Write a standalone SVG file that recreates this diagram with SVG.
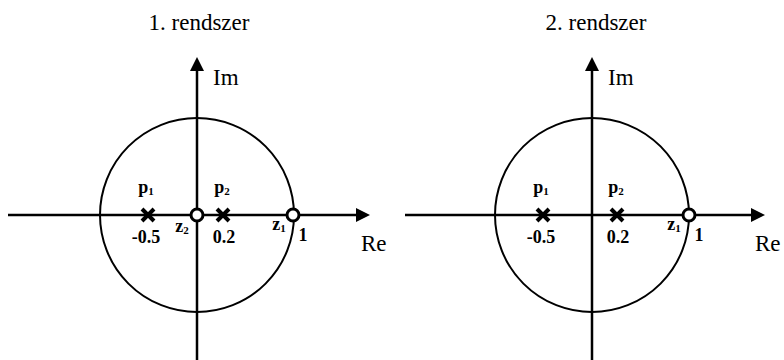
<svg xmlns="http://www.w3.org/2000/svg" width="784" height="360" viewBox="0 0 784 360">
<style>
.ax{stroke:#000;stroke-width:2.5;fill:none}
.uc{stroke:#000;stroke-width:2;fill:none}
.zero{stroke:#000;stroke-width:3;fill:#fff}
.pole{stroke:#000;stroke-width:4;stroke-linecap:butt}
text{font-family:"Liberation Serif","DejaVu Serif",serif;fill:#000}
.t{font-size:23px;text-anchor:middle}
.ax-l{font-size:23px}
.b{font-size:18px;font-weight:bold;text-anchor:middle}
.s{font-size:11px;font-weight:bold}
</style>
<g id="connectors">
<line class="ax" x1="8" y1="215" x2="362" y2="215"/>
<path d="M356,208 L370,215 L356,222 z" fill="#000"/>
<line class="ax" x1="197" y1="360" x2="197" y2="66"/>
<path d="M190,71 L197,57 L204,71 z" fill="#000"/>
<line class="ax" x1="405" y1="215" x2="757" y2="215"/>
<path d="M751,208 L765,215 L751,222 z" fill="#000"/>
<line class="ax" x1="592" y1="360" x2="592" y2="66"/>
<path d="M585,71 L592,57 L599,71 z" fill="#000"/>
</g>
<g id="system1">
<text class="t" x="199" y="30">1. rendszer</text>
<text class="ax-l" x="213" y="85">Im</text>
<text class="ax-l" x="361" y="251">Re</text>
<circle class="uc" cx="197" cy="215" r="97"/>
</g>
<g id="p1a">
<path class="pole" d="M142,209 L154,221 M154,209 L142,221"/>
<text class="b" x="146" y="193">p<tspan class="s" dy="2">1</tspan></text>
<text class="b" x="146" y="243">-0.5</text>
</g>
<g id="p2a">
<path class="pole" d="M217,209 L229,221 M229,209 L217,221"/>
<text class="b" x="222" y="193">p<tspan class="s" dy="2">2</tspan></text>
<text class="b" x="224" y="243">0.2</text>
</g>
<g id="z2a">
<circle class="zero" cx="197" cy="215" r="6"/>
<text class="b" x="182" y="232">z<tspan class="s" dy="2">2</tspan></text>
</g>
<g id="z1a">
<circle class="zero" cx="293" cy="215" r="6"/>
<text class="b" x="279" y="230">z<tspan class="s" dy="2">1</tspan></text>
<text class="b" x="303" y="241">1</text>
</g>
<g id="system2">
<text class="t" x="596" y="30">2. rendszer</text>
<text class="ax-l" x="608" y="85">Im</text>
<text class="ax-l" x="755" y="251">Re</text>
<circle class="uc" cx="592" cy="215" r="97"/>
</g>
<g id="p1b">
<path class="pole" d="M537,209 L549,221 M549,209 L537,221"/>
<text class="b" x="541" y="193">p<tspan class="s" dy="2">1</tspan></text>
<text class="b" x="541" y="243">-0.5</text>
</g>
<g id="p2b">
<path class="pole" d="M611,209 L623,221 M623,209 L611,221"/>
<text class="b" x="616" y="193">p<tspan class="s" dy="2">2</tspan></text>
<text class="b" x="618" y="243">0.2</text>
</g>
<g id="z1b">
<circle class="zero" cx="689" cy="215" r="6"/>
<text class="b" x="674" y="230">z<tspan class="s" dy="2">1</tspan></text>
<text class="b" x="699" y="241">1</text>
</g>
</svg>
